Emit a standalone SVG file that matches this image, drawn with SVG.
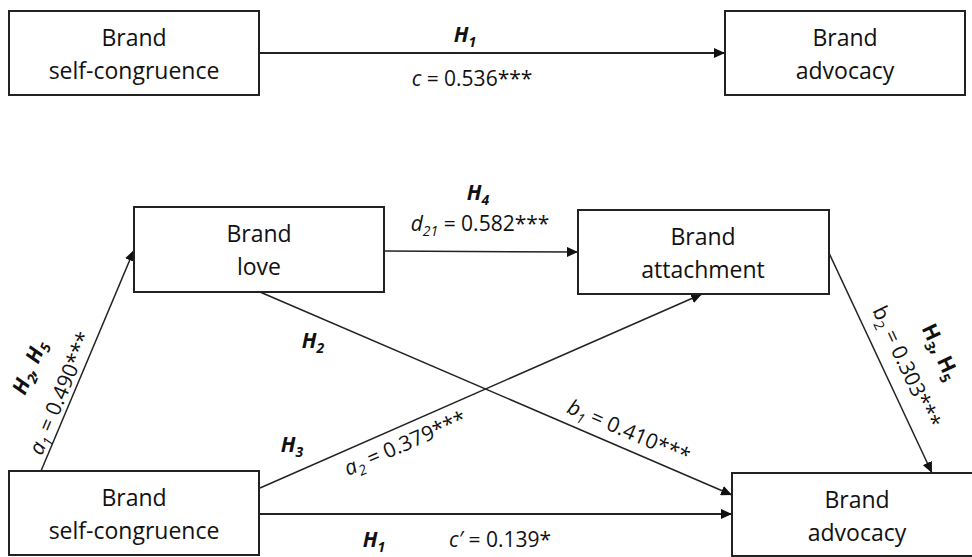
<svg xmlns="http://www.w3.org/2000/svg" width="972" height="557" viewBox="0 0 972 557">
<defs>
<style>
.box{fill:#fff;stroke:#222;stroke-width:2}
.nt{font-family:"Open Sans","DejaVu Sans",sans-serif;font-size:23px;fill:#111;text-anchor:middle}
.lb{font-family:"Open Sans","DejaVu Sans",sans-serif;font-size:21px;fill:#111;text-anchor:middle}
.hb{font-weight:bold;font-style:italic}
.hu{font-weight:bold}
.it{font-style:italic}
.ln{stroke:#222;stroke-width:1.5;fill:none;marker-end:url(#ah)}
.ln2{stroke:#222;stroke-width:2.2;fill:none;marker-end:url(#ah)}
</style>
<marker id="ah" markerUnits="userSpaceOnUse" markerWidth="12" markerHeight="10" refX="11" refY="5" orient="auto">
<path d="M0,0 L11,5 L0,10 z" fill="#111"/>
</marker>
</defs>
<rect width="972" height="557" fill="#fff"/>

<g id="connectors">
<line class="ln2" x1="260" y1="53" x2="725" y2="53"/>
<line class="ln" x1="41" y1="471" x2="134" y2="250"/>
<line class="ln" x1="384" y1="251" x2="578" y2="252"/>
<line class="ln" x1="260" y1="292" x2="732" y2="495"/>
<line class="ln" x1="260" y1="488" x2="702" y2="294"/>
<line class="ln" x1="829" y1="253" x2="932" y2="473"/>
<line class="ln2" x1="260" y1="514" x2="732" y2="514"/>
</g>

<g id="top-self-congruence">
<rect class="box" x="9" y="11" width="250" height="84"/>
<text class="nt" x="134" y="46">Brand</text>
<text class="nt" x="134" y="79">self-congruence</text>
</g>
<g id="top-advocacy">
<rect class="box" x="725" y="11" width="240" height="84"/>
<text class="nt" x="845" y="46">Brand</text>
<text class="nt" x="845" y="79">advocacy</text>
</g>

<g id="brand-love">
<rect class="box" x="134" y="207" width="250" height="85"/>
<text class="nt" x="259" y="242">Brand</text>
<text class="nt" x="259" y="275">love</text>
</g>
<g id="brand-attachment">
<rect class="box" x="578" y="210" width="251" height="84"/>
<text class="nt" x="703" y="245">Brand</text>
<text class="nt" x="703" y="278">attachment</text>
</g>
<g id="bottom-self-congruence">
<rect class="box" x="9" y="471" width="250" height="84"/>
<text class="nt" x="134" y="506">Brand</text>
<text class="nt" x="134" y="539">self-congruence</text>
</g>
<g id="bottom-advocacy">
<rect class="box" x="732" y="473" width="260" height="83"/>
<text class="nt" x="857" y="508">Brand</text>
<text class="nt" x="857" y="541">advocacy</text>
</g>

<g id="labels">
<text class="lb hb" x="465" y="42">H<tspan dy="5" font-size="14">1</tspan></text>
<text class="lb" x="472" y="86"><tspan class="it">c</tspan> = 0.536***</text>

<text class="lb hb" x="478" y="200">H<tspan dy="5" font-size="14">4</tspan></text>
<text class="lb" x="480" y="231"><tspan class="it">d</tspan><tspan class="it" dy="5" font-size="14">21</tspan><tspan dy="-5"> = 0.582***</tspan></text>

<text class="lb hb" x="313" y="348">H<tspan dy="5" font-size="14">2</tspan></text>

<text class="lb hb" transform="translate(36,370) rotate(-67.2)">H<tspan dy="5" font-size="14">2</tspan><tspan dy="-5">, H</tspan><tspan dy="5" font-size="14">5</tspan></text>
<text class="lb" transform="translate(67,396) rotate(-67.2)"><tspan class="it">a</tspan><tspan class="it" dy="5" font-size="14">1</tspan><tspan dy="-5"> = 0.490***</tspan></text>

<text class="lb hb" x="292" y="452">H<tspan dy="5" font-size="14">3</tspan></text>
<text class="lb" transform="translate(408,450) rotate(-23.5)"><tspan class="it">a</tspan><tspan class="it" dy="5" font-size="14">2</tspan><tspan dy="-5"> = 0.379***</tspan></text>

<text class="lb" transform="translate(626,438) rotate(23.2)"><tspan class="it">b</tspan><tspan class="it" dy="5" font-size="14">1</tspan><tspan dy="-5"> = 0.410***</tspan></text>

<text class="lb hu" transform="translate(934,355) rotate(64.9)">H<tspan dy="5" font-size="14">3</tspan><tspan dy="-5">, H</tspan><tspan dy="5" font-size="14">5</tspan></text>
<text class="lb" transform="translate(900,370) rotate(64.9)">b<tspan dy="5" font-size="14">2</tspan><tspan dy="-5"> = 0.303***</tspan></text>

<text class="lb hb" x="374" y="547">H<tspan dy="5" font-size="14">1</tspan></text>
<text class="lb" x="500" y="547"><tspan class="it">c′</tspan> = 0.139*</text>
</g>
</svg>
